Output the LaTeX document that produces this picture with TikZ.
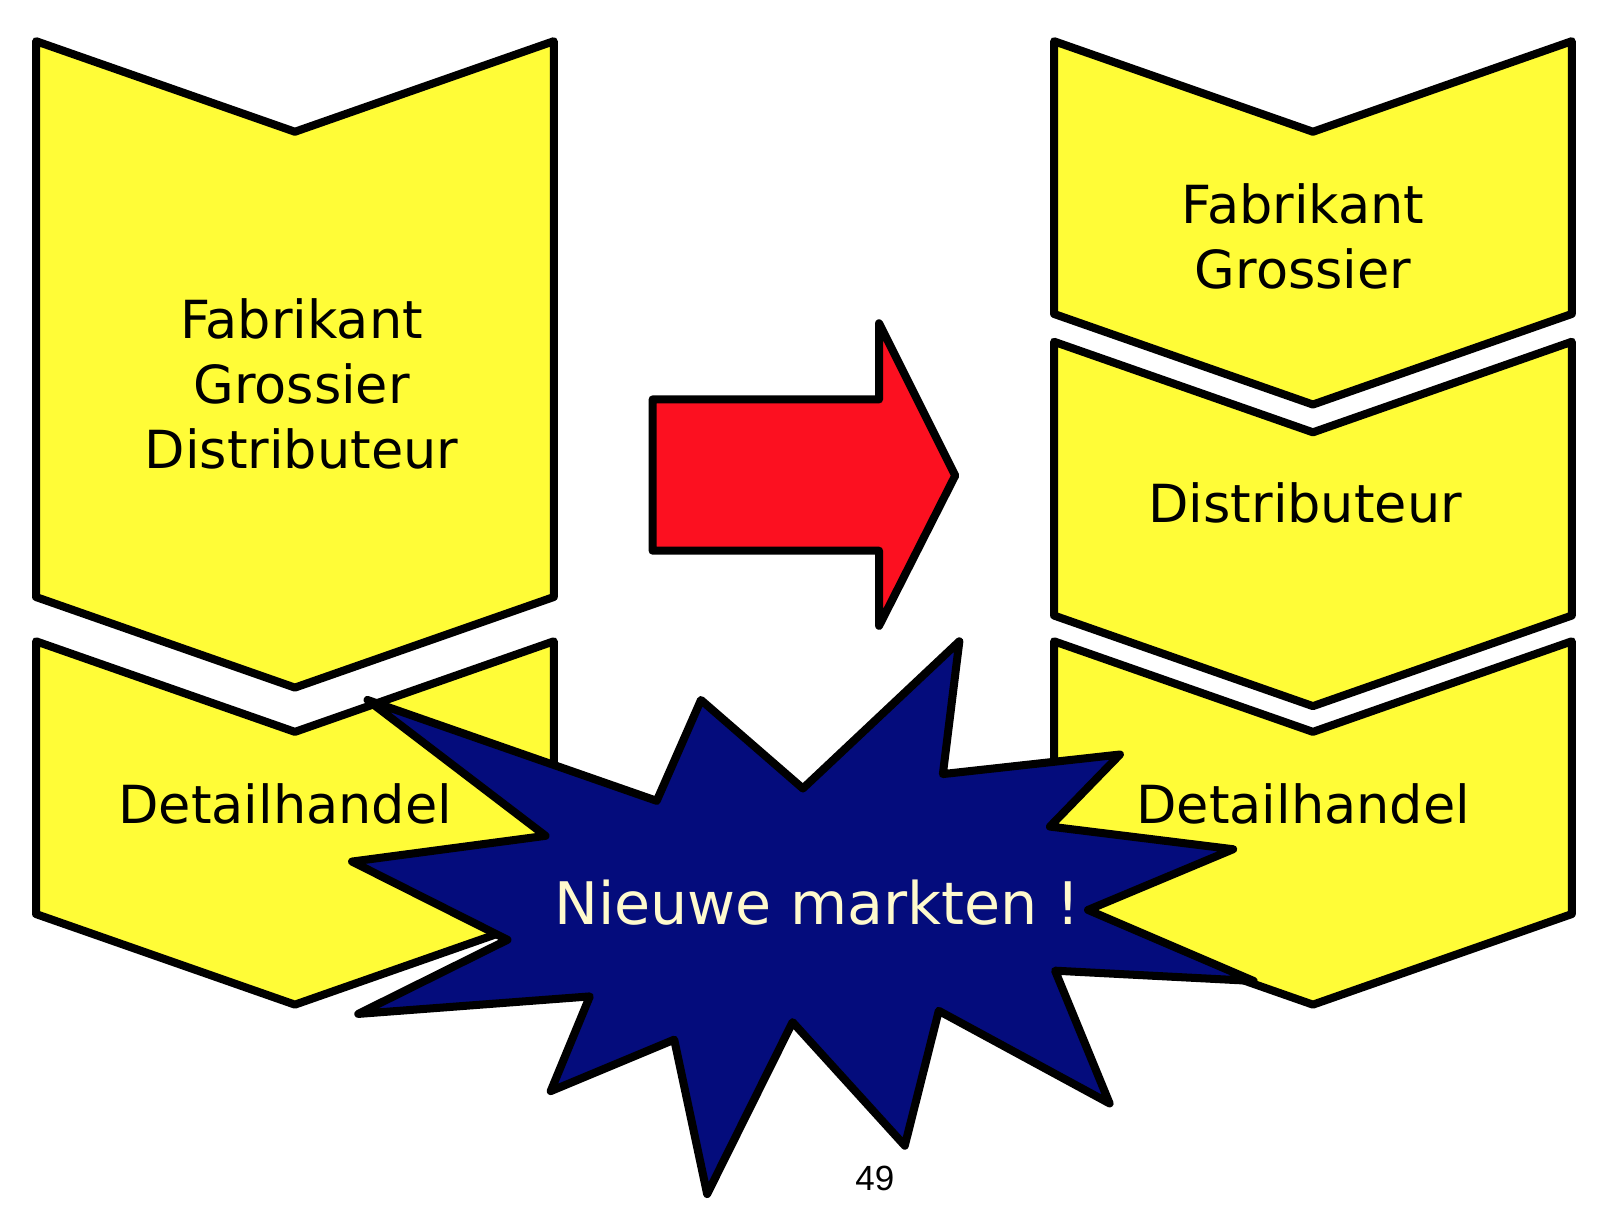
\documentclass[tikz,border=0pt]{standalone}
\usepackage{fontspec}
\setmainfont{DejaVu Sans}
\newfontfamily\pagefont{Liberation Sans}
\definecolor{chevyellow}{RGB}{255,252,55}
\definecolor{arrowred}{RGB}{252,16,32}
\definecolor{starblue}{RGB}{4,12,124}
\definecolor{startext}{RGB}{255,250,205}
\begin{document}
\begin{tikzpicture}[x=0.5pt, y=-0.5pt, line width=3.9pt, line join=round,
    chev/.style = {draw, fill=chevyellow},
    label/.style = {font=\fontsize{25.5}{31.5}\selectfont, align=center},
    burst/.style = {draw, fill=starblue}]
    \useasboundingbox (0,0) rectangle (1568,1185);
    % chevrons: left x, top y, bottom y
    \foreach \x/\t/\b in {35/40/580, 35/623/888, 1024/40/305, 1024/332/598, 1024/623/888}
        \draw[chev] (\x,\t) -- ++(251.5,88) -- ++(251.5,-88) -- (\x+503,\b) -- ++(-251.5,88) -- ++(-251.5,-88) -- cycle;
    \node[label] (leftmain) at (293,373) {Fabrikant\\Grossier\\Distributeur};
    \node[label] (leftdetail) at (277,781) {Detailhandel};
    \node[label] (rightfab) at (1266,230) {Fabrikant\\Grossier};
    \node[label] (rightdist) at (1268,489) {Distributeur};
    \node[label] (rightdetail) at (1266,781) {Detailhandel};
    % big red arrow
    \draw[fill=arrowred] (634,388) -- (854,388) -- (854,314) -- (928,462) -- (854,608) -- (854,535) -- (634,535) -- cycle;
    % star burst
    \draw[burst] (357,680) -- (638,778) -- (681,680) -- (780,766) -- (932,623) -- (916,752)
        -- (1088,733) -- (1020,803) -- (1198,825) -- (1057,884) -- (1218,953) -- (1025,943)
        -- (1078,1072) -- (912,982) -- (879,1113) -- (770,993) -- (687,1160) -- (655,1010)
        -- (535,1060) -- (573,968) -- (348,985) -- (493,913) -- (342,837) -- (530,812) -- cycle;
    \node[font=\fontsize{28.5}{34}\selectfont, text=startext] (news) at (794,877) {Nieuwe markten !};
    \node[font=\pagefont\fontsize{17}{20}\selectfont] (page) at (850,1145) {49};
\end{tikzpicture}
\end{document}
